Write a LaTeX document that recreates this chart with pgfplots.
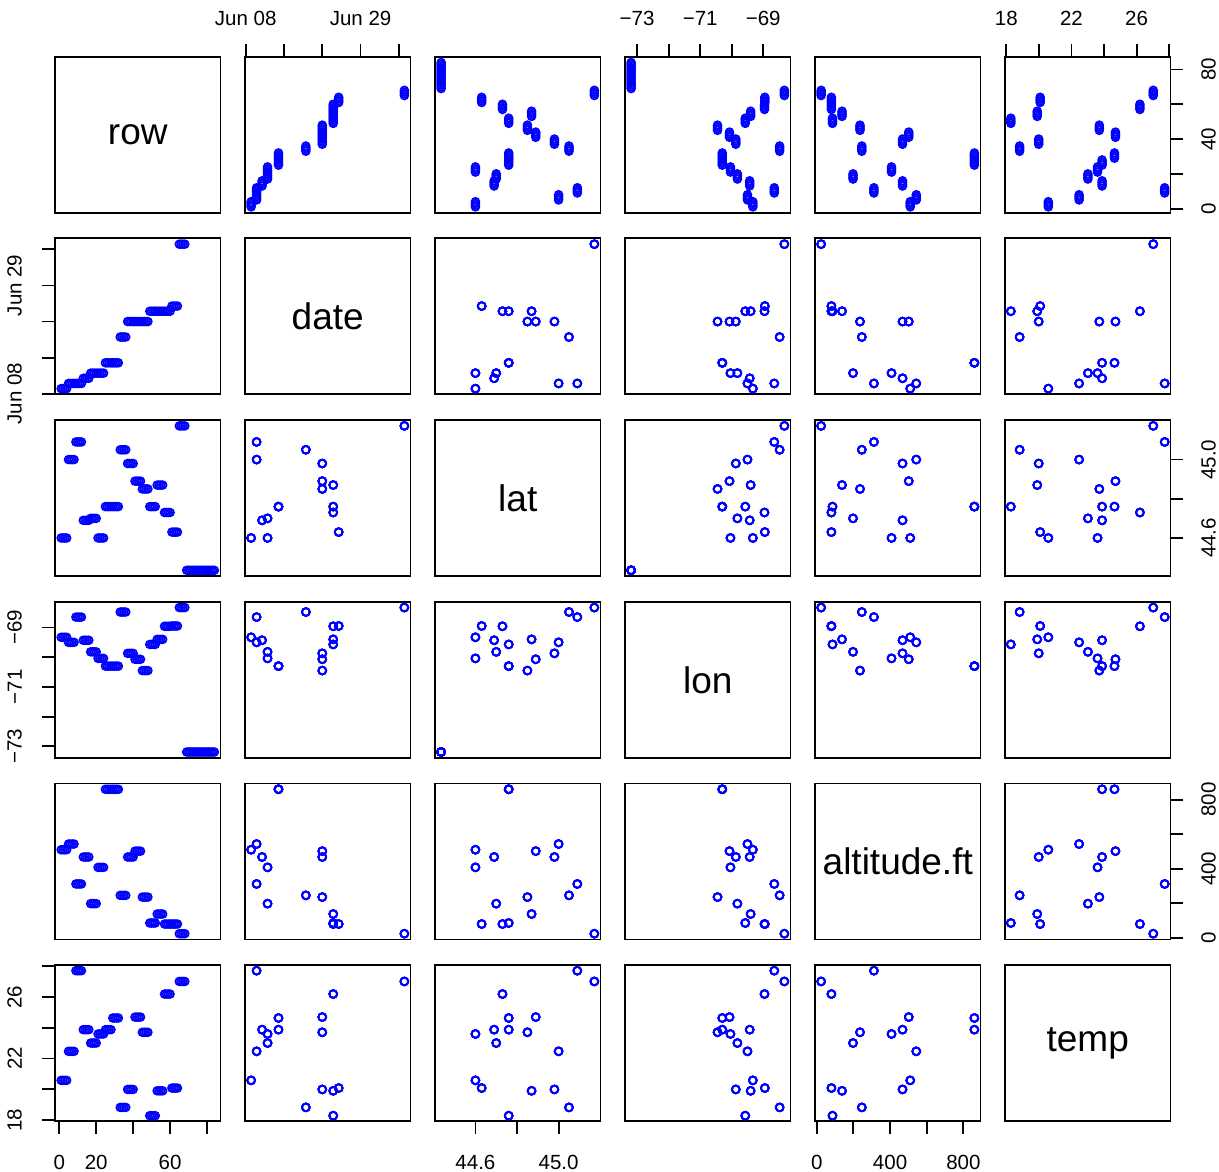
\documentclass[border=0pt]{standalone}
\usepackage{fontspec}
\setmainfont{Liberation Sans}
\usepackage{pgfplots}
\pgfplotsset{compat=1.18}
\usepackage{pgfplotstable}

\pgfplotstableread{
row day lat lon alt temp
1 1 44.60 -69.33 510 20.58
2 1 44.60 -69.33 510 20.58
3 1 44.60 -69.33 510 20.58
4 1 44.60 -69.33 510 20.58
5 2 45.00 -69.50 543 22.47
6 2 45.00 -69.50 543 22.47
7 2 45.00 -69.50 543 22.47
8 2 45.00 -69.50 543 22.47
9 2 45.09 -68.65 312 27.72
10 2 45.09 -68.65 312 27.72
11 2 45.09 -68.65 312 27.72
12 2 45.09 -68.65 312 27.72
13 3 44.69 -69.43 468 23.88
14 3 44.69 -69.43 468 23.88
15 3 44.69 -69.43 468 23.88
16 3 44.69 -69.43 468 23.88
17 4 44.70 -69.82 198 23.01
18 4 44.70 -69.82 198 23.01
19 4 44.70 -69.82 198 23.01
20 4 44.70 -69.82 198 23.01
21 4 44.60 -70.04 408 23.60
22 4 44.60 -70.04 408 23.60
23 4 44.60 -70.04 408 23.60
24 4 44.60 -70.04 408 23.60
25 6 44.76 -70.30 860 23.88
26 6 44.76 -70.30 860 23.88
27 6 44.76 -70.30 860 23.88
28 6 44.76 -70.30 860 23.88
29 6 44.76 -70.30 860 24.64
30 6 44.76 -70.30 860 24.64
31 6 44.76 -70.30 860 24.64
32 6 44.76 -70.30 860 24.64
33 11 45.05 -68.48 246 18.82
34 11 45.05 -68.48 246 18.82
35 11 45.05 -68.48 246 18.82
36 11 45.05 -68.48 246 18.82
37 14 44.98 -69.87 468 19.99
38 14 44.98 -69.87 468 19.99
39 14 44.98 -69.87 468 19.99
40 14 44.98 -69.87 468 19.99
41 14 44.89 -70.07 502 24.70
42 14 44.89 -70.07 502 24.70
43 14 44.89 -70.07 502 24.70
44 14 44.89 -70.07 502 24.70
45 14 44.85 -70.45 236 23.71
46 14 44.85 -70.45 236 23.71
47 14 44.85 -70.45 236 23.71
48 14 44.85 -70.45 236 23.71
49 16 44.76 -69.57 86 18.28
50 16 44.76 -69.57 86 18.28
51 16 44.76 -69.57 86 18.28
52 16 44.76 -69.57 86 18.28
53 16 44.87 -69.40 138 19.90
54 16 44.87 -69.40 138 19.90
55 16 44.87 -69.40 138 19.90
56 16 44.87 -69.40 138 19.90
57 16 44.73 -68.96 80 26.20
58 16 44.73 -68.96 80 26.20
59 16 44.73 -68.96 80 26.20
60 16 44.73 -68.96 80 26.20
61 17 44.63 -68.95 80 20.08
62 17 44.63 -68.95 80 20.08
63 17 44.63 -68.95 80 20.08
64 17 44.63 -68.95 80 20.08
65 29 45.172 -68.33 24 27.02
66 29 45.172 -68.33 24 27.02
67 29 45.172 -68.33 24 27.02
68 29 45.172 -68.33 24 27.02
69 nan 44.435 -73.19 nan nan
70 nan 44.435 -73.19 nan nan
71 nan 44.435 -73.19 nan nan
72 nan 44.435 -73.19 nan nan
73 nan 44.435 -73.19 nan nan
74 nan 44.435 -73.19 nan nan
75 nan 44.435 -73.19 nan nan
76 nan 44.435 -73.19 nan nan
77 nan 44.435 -73.19 nan nan
78 nan 44.435 -73.19 nan nan
79 nan 44.435 -73.19 nan nan
80 nan 44.435 -73.19 nan nan
81 nan 44.435 -73.19 nan nan
82 nan 44.435 -73.19 nan nan
83 nan 44.435 -73.19 nan nan
84 nan 44.435 -73.19 nan nan
}\data

\newcommand{\tf}{\fontsize{20.5}{24}\selectfont}

\pgfplotsset{
  pnl/.style={anchor=south west, width=165.5pt, height=156pt, scale only axis,
    clip=false, xtick=\empty, ytick=\empty, tick align=outside,
    major tick length=12.7pt, tick style={line width=1.8pt, black},
    axis line style={line width=1.8pt}},
  pts/.style={only marks, mark=o, mark size=3.9pt, color=blue, mark options={line width=1.7pt}},
  xrow/.style={xmin=-2.32, xmax=87.32}, yrow/.style={ymin=-2.32, ymax=87.32},
  xday/.style={xmin=-0.12, xmax=30.12}, yday/.style={ymin=-0.12, ymax=30.12},
  xlat/.style={xmin=44.4055, xmax=45.2015}, ylat/.style={ymin=44.4055, ymax=45.2015},
  xlon/.style={xmin=-73.3844, xmax=-68.1356}, ylon/.style={ymin=-73.3844, ymax=-68.1356},
  xalt/.style={xmin=-9.44, xmax=893.44}, yalt/.style={ymin=-9.44, ymax=893.44},
  xtemp/.style={xmin=17.9224, xmax=28.0776}, ytemp/.style={ymin=17.9224, ymax=28.0776},
  tickB/.style={xtick pos=left, xticklabel pos=left, xticklabel style={yshift=-18pt, anchor=north, font=\tf}},
  tickT/.style={xtick pos=right, xticklabel pos=right, xticklabel style={yshift=15pt, anchor=south, font=\tf}},
  tickL/.style={ytick pos=left, yticklabel pos=left, yticklabel style={xshift=-17pt, rotate=90, anchor=south, font=\tf}},
  tickR/.style={ytick pos=right, yticklabel pos=right, yticklabel style={xshift=18pt, rotate=90, anchor=north, inner sep=0pt, font=\tf}},
  xtrow/.style={xtick={0,20,40,60,80}, xticklabels={0,20,{},60,{}}},
  ytrow/.style={ytick={0,20,40,60,80}, yticklabels={0,{},40,{},80}},
  xtday/.style={xtick={0,7,14,21,28}, xticklabels={Jun 08,{},{},Jun 29,{}}},
  ytday/.style={ytick={0,7,14,21,28}, yticklabels={Jun 08,{},{},Jun 29,{}}},
  xtlat/.style={xtick={44.6,44.8,45.0}, xticklabels={44.6,{},45.0}},
  ytlat/.style={ytick={44.6,44.8,45.0}, yticklabels={44.6,{},45.0}},
  xtlon/.style={xtick={-73,-72,-71,-70,-69}, xticklabels={−73,{},−71,{},−69}},
  ytlon/.style={ytick={-73,-72,-71,-70,-69}, yticklabels={−73,{},−71,{},−69}},
  xtalt/.style={xtick={0,200,400,600,800}, xticklabels={0,{},400,{},800}},
  ytalt/.style={ytick={0,200,400,600,800}, yticklabels={0,{},400,{},800}},
  xttemp/.style={xtick={18,20,22,24,26,28}, xticklabels={18,{},22,{},26,{}}},
  yttemp/.style={ytick={18,20,22,24,26,28}, yticklabels={18,{},22,{},26,{}}},
}

% #1 column index, #2 row index, #3 x variable, #4 y variable, #5 extra options
\newcommand{\panel}[5]{%
  \begin{axis}[pnl, at={({55pt+190pt*#1},{959.3pt-181.7pt*#2})}, x#3, y#4, #5]
    \addplot[pts] table[x=#3, y=#4]{\data};
  \end{axis}}
\newcommand{\diag}[2]{%
  \begin{axis}[pnl, at={({55pt+190pt*#1},{959.3pt-181.7pt*#1})}, xmin=0, xmax=1, ymin=0, ymax=1]
    \node at (rel axis cs:0.5,0.5) {\fontsize{37}{44}\selectfont #2};
  \end{axis}}

\begin{document}
\begin{tikzpicture}
\useasboundingbox (0,0) rectangle (1219pt,1172pt);
% row 0 : row
\diag{0}{row}
\panel{1}{0}{day}{row}{tickT, xtday}
\panel{2}{0}{lat}{row}{}
\panel{3}{0}{lon}{row}{tickT, xtlon}
\panel{4}{0}{alt}{row}{}
\panel{5}{0}{temp}{row}{tickT, xttemp, tickR, ytrow}
% row 1 : date
\panel{0}{1}{row}{day}{tickL, ytday}
\diag{1}{date}
\panel{2}{1}{lat}{day}{}
\panel{3}{1}{lon}{day}{}
\panel{4}{1}{alt}{day}{}
\panel{5}{1}{temp}{day}{}
% row 2 : lat
\panel{0}{2}{row}{lat}{}
\panel{1}{2}{day}{lat}{}
\diag{2}{lat}
\panel{3}{2}{lon}{lat}{}
\panel{4}{2}{alt}{lat}{}
\panel{5}{2}{temp}{lat}{tickR, ytlat}
% row 3 : lon
\panel{0}{3}{row}{lon}{tickL, ytlon}
\panel{1}{3}{day}{lon}{}
\panel{2}{3}{lat}{lon}{}
\diag{3}{lon}
\panel{4}{3}{alt}{lon}{}
\panel{5}{3}{temp}{lon}{}
% row 4 : altitude
\panel{0}{4}{row}{alt}{}
\panel{1}{4}{day}{alt}{}
\panel{2}{4}{lat}{alt}{}
\panel{3}{4}{lon}{alt}{}
\diag{4}{altitude.ft}
\panel{5}{4}{temp}{alt}{tickR, ytalt}
% row 5 : temp
\panel{0}{5}{row}{temp}{tickB, xtrow, tickL, yttemp}
\panel{1}{5}{day}{temp}{}
\panel{2}{5}{lat}{temp}{tickB, xtlat}
\panel{3}{5}{lon}{temp}{}
\panel{4}{5}{alt}{temp}{tickB, xtalt}
\diag{5}{temp}
\end{tikzpicture}
\end{document}
